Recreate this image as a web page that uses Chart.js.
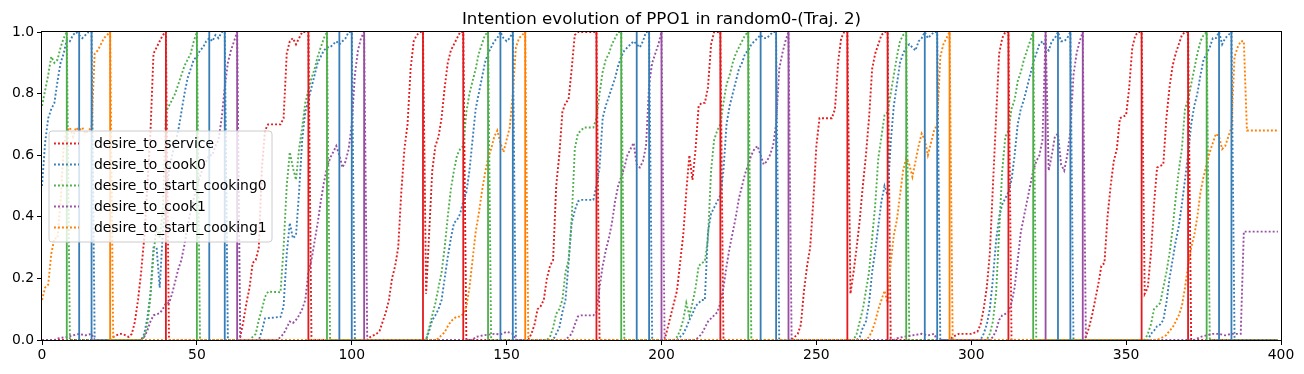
<!DOCTYPE html>
<html>
<head>
<meta charset="utf-8">
<script src="https://cdn.jsdelivr.net/npm/chart.js@4.4.1/dist/chart.umd.min.js"></script>
<style>
  html, body { margin: 0; padding: 0; background: #fff; }
  #wrap { width: 1304px; height: 374px; }
</style>
</head>
<body>
<div id="wrap"><canvas id="intentChart" width="1304" height="374"></canvas></div>
<script>
const chartTitle = "Intention evolution of PPO1 in random0-(Traj. 2)";
const seriesNames = ["desire_to_service", "desire_to_cook0", "desire_to_start_cooking0", "desire_to_cook1", "desire_to_start_cooking1"];
const seriesColors = ["#e41a1c", "#377eb8", "#4daf4a", "#984ea3", "#ff7f00"];
const xTicks = [0, 50, 100, 150, 200, 250, 300, 350, 400];
const yTicks = [0, 0.2, 0.4, 0.6, 0.8, 1.0];

// [step, value]
const desireService = [
  [0,0],[22,0],[23,0.01],[24,0.015],[25,0.02],[26,0.02],[27,0.015],[28,0.01],[29,0.02],[30,0.06],[31,0.13],[32,0.22],[33,0.33],[34,0.5],[35,0.67],[36,0.93],[37,0.95],[38,0.97],[39,0.99],[40,1],[41,0],
  [63,0],[64,0.01],[65,0.06],[66,0.12],[67,0.17],[68,0.25],[69,0.26],[70,0.3],[71,0.56],[72,0.68],[73,0.7],[77,0.7],[78,0.72],[79,0.93],[80,0.97],[81,0.98],[82,0.96],[83,0.98],[84,1],[86,1],[87,0],
  [105,0],[106,0.01],[107,0.015],[108,0.02],[109,0.03],[110,0.06],[111,0.09],[112,0.13],[113,0.2],[114,0.24],[115,0.3],[116,0.48],[117,0.62],[118,0.7],[119,0.88],[120,0.97],[121,0.99],[122,1],[123,1],
  [124,0.15],[125,0.35],[126,0.55],[127,0.63],[128,0.66],[129,0.72],[130,0.82],[131,0.9],[132,0.94],[133,0.96],[134,0.98],[135,1],[136,1],[137,0],
  [157,0],[158,0.02],[159,0.05],[160,0.1],[161,0.11],[162,0.13],[163,0.2],[164,0.24],[165,0.26],[166,0.5],[167,0.6],[168,0.74],[169,0.77],[170,0.78],[171,0.88],[172,0.99],[173,1],[179,1],[180,0],
  [201,0],[202,0.04],[203,0.08],[204,0.12],[205,0.16],[206,0.25],[207,0.34],[208,0.48],[209,0.6],[210,0.52],[211,0.62],[212,0.76],[213,0.77],[214,0.77],[215,0.82],[216,0.96],[217,1],[219,1],[220,0],
  [242,0],[243,0.01],[244,0.02],[245,0.05],[246,0.16],[247,0.24],[248,0.3],[249,0.45],[250,0.63],[251,0.72],[255,0.72],[256,0.75],[257,0.9],[258,0.98],[259,1],[260,1],
  [261,0.15],[262,0.22],[263,0.3],[264,0.39],[265,0.5],[266,0.6],[267,0.72],[268,0.88],[269,0.93],[270,0.96],[271,0.99],[272,1],[273,1],[274,0],
  [293,0],[294,0.01],[296,0.02],[300,0.02],[302,0.027],[303,0.05],[304,0.1],[305,0.17],[306,0.28],[307,0.5],[308,0.72],[309,0.93],[310,0.98],[311,1],[312,1],[313,0],
  [336,0],[337,0.01],[338,0.04],[339,0.08],[340,0.13],[341,0.18],[342,0.24],[343,0.25],[344,0.4],[345,0.5],[346,0.58],[347,0.62],[348,0.72],[350,0.73],[351,0.82],[352,0.95],[353,0.99],[354,1],[355,1],
  [356,0.15],[357,0.17],[358,0.28],[359,0.44],[360,0.56],[362,0.57],[363,0.72],[364,0.82],[365,0.89],[366,0.93],[367,0.96],[368,0.99],[369,1],[370,1],[371,0],[399,0]
];

const desireCook0 = [
  [0,0.5],[1,0.64],[2,0.72],[3,0.75],[4,0.77],[5,0.84],[6,0.9],[7,0.93],[8,0.975],[9,0.97],[10,0.99],[11,1],[12,0.99],[13,0.98],[14,0.99],[15,1],[16,1],[17,0],
  [32,0],[33,0.02],[34,0.07],[35,0.15],[36,0.3],[37,0.3],[38,0.17],[39,0.35],[40,0.45],[41,0.55],[42,0.6],[43,0.64],[44,0.68],[45,0.74],[46,0.8],[47,0.85],[48,0.88],[49,0.91],[50,0.92],[51,0.94],[52,0.95],[53,0.97],[54,0.98],[55,0.97],[56,0.99],[57,0.98],[58,1],[59,1],[60,0],
  [70,0],[71,0.03],[72,0.07],[77,0.075],[78,0.11],[79,0.28],[80,0.38],[81,0.33],[82,0.34],[83,0.48],[84,0.65],[85,0.74],[86,0.78],[87,0.82],[88,0.86],[89,0.9],[90,0.92],[91,0.94],[92,0.95],[93,0.95],[94,0.96],[95,0.97],[96,0.96],[97,0.97],[98,0.98],[99,1],[100,1],[101,0],
  [124,0],[125,0.03],[126,0.065],[127,0.08],[128,0.1],[129,0.13],[130,0.2],[131,0.27],[132,0.33],[133,0.38],[134,0.39],[135,0.41],[136,0.45],[137,0.48],[138,0.55],[139,0.65],[140,0.75],[141,0.8],[142,0.85],[143,0.9],[144,0.93],[145,0.95],[146,0.97],[147,0.98],[148,1],[149,0.98],[150,0.97],[151,0.98],[152,1],[153,0],
  [165,0],[166,0.02],[167,0.04],[168,0.09],[169,0.13],[170,0.25],[171,0.38],[172,0.42],[173,0.45],[174,0.455],[178,0.455],[179,0.5],[180,0.56],[181,0.72],[182,0.76],[183,0.79],[184,0.82],[185,0.85],[186,0.89],[187,0.92],[188,0.94],[189,0.95],[190,0.96],[191,0.97],[192,0.96],[193,0.95],[194,0.97],[195,1],[196,1],[197,0],
  [205,0],[206,0.01],[207,0.02],[208,0.04],[209,0.065],[210,0.085],[211,0.11],[212,0.12],[213,0.13],[214,0.13],[215,0.35],[216,0.41],[217,0.43],[218,0.45],[219,0.47],[220,0.55],[221,0.7],[222,0.76],[223,0.8],[224,0.84],[225,0.88],[226,0.9],[227,0.93],[228,0.94],[229,0.96],[230,0.97],[231,0.98],[232,0.99],[233,0.98],[234,0.98],[235,0.99],[236,1],[237,1],[238,0],
  [263,0],[264,0.01],[265,0.04],[266,0.06],[267,0.12],[268,0.22],[269,0.29],[270,0.37],[271,0.45],[272,0.5],[273,0.47],[274,0.64],[275,0.76],[276,0.83],[277,0.9],[278,0.93],[279,0.95],[280,0.96],[281,0.95],[282,0.94],[283,0.97],[284,0.98],[285,1],[286,0.98],[287,0.99],[288,1],[289,1],[290,0],
  [303,0],[304,0.02],[305,0.05],[306,0.1],[307,0.2],[308,0.32],[309,0.4],[310,0.44],[311,0.46],[312,0.48],[313,0.52],[314,0.6],[315,0.7],[316,0.75],[317,0.78],[318,0.82],[319,0.86],[320,0.9],[321,0.93],[322,0.96],[323,0.97],[324,0.95],[325,0.94],[326,0.97],[327,0.98],[328,1],[329,0.97],[330,0.97],[331,0.98],[332,1],[333,0],
  [357,0],[358,0.02],[359,0.03],[360,0.045],[361,0.05],[362,0.065],[363,0.12],[364,0.2],[365,0.26],[366,0.32],[367,0.37],[368,0.44],[369,0.52],[370,0.6],[371,0.7],[372,0.76],[373,0.8],[374,0.86],[375,0.91],[376,0.93],[377,0.95],[378,0.98],[379,0.98],[380,1],[381,0.96],[382,0.98],[383,0.99],[384,1],[385,0],[399,0]
];

const desireStartCooking0 = [
  [0,0.76],[1,0.81],[2,0.86],[3,0.92],[4,0.9],[5,0.91],[6,0.95],[7,0.98],[8,1],[9,0],
  [32,0],[33,0.01],[34,0.05],[35,0.14],[36,0.28],[37,0.37],[38,0.33],[39,0.42],[40,0.74],[41,0.76],[42,0.78],[43,0.8],[44,0.83],[45,0.86],[46,0.89],[47,0.91],[48,0.93],[49,0.97],[50,1],[51,0],
  [67,0],[68,0.01],[69,0.02],[70,0.065],[71,0.1],[72,0.14],[73,0.157],[77,0.155],[78,0.3],[79,0.5],[80,0.61],[81,0.56],[82,0.52],[83,0.62],[84,0.69],[85,0.77],[86,0.81],[87,0.85],[88,0.88],[89,0.92],[90,0.95],[91,0.98],[92,1],[93,0],
  [124,0],[125,0.04],[126,0.08],[127,0.12],[128,0.17],[129,0.22],[130,0.3],[131,0.4],[132,0.49],[133,0.55],[134,0.6],[135,0.62],[136,0.63],[137,0.74],[138,0.8],[139,0.84],[140,0.88],[141,0.93],[142,0.96],[143,0.99],[144,1],[145,0],
  [163,0],[164,0.01],[165,0.04],[166,0.085],[167,0.1],[168,0.13],[169,0.22],[170,0.26],[171,0.39],[172,0.62],[173,0.67],[174,0.68],[175,0.69],[178,0.69],[179,0.72],[180,0.8],[181,0.87],[182,0.91],[183,0.93],[184,0.96],[185,0.98],[186,1],[187,1],[188,0],
  [204,0],[205,0.01],[206,0.03],[207,0.065],[208,0.12],[209,0.08],[210,0.12],[211,0.17],[212,0.24],[213,0.25],[214,0.255],[215,0.33],[216,0.55],[217,0.65],[218,0.68],[219,0.7],[220,0.77],[221,0.83],[222,0.86],[223,0.9],[224,0.93],[225,0.95],[226,0.97],[227,0.99],[228,1],[229,0],
  [262,0],[263,0.02],[264,0.06],[265,0.1],[266,0.16],[267,0.22],[268,0.33],[269,0.44],[270,0.59],[271,0.66],[272,0.73],[273,0.74],[274,0.8],[275,0.86],[276,0.92],[277,0.97],[278,0.99],[279,1],[280,0],
  [305,0],[306,0.02],[307,0.06],[308,0.15],[309,0.35],[310,0.55],[311,0.66],[312,0.68],[313,0.75],[314,0.78],[315,0.84],[316,0.87],[317,0.91],[318,0.94],[319,0.97],[320,1],[321,0],
  [356,0],[357,0.02],[358,0.05],[359,0.1],[360,0.11],[361,0.12],[362,0.17],[363,0.22],[364,0.28],[365,0.36],[366,0.46],[367,0.55],[368,0.62],[369,0.75],[370,0.78],[371,0.83],[372,0.88],[373,0.93],[374,0.97],[375,0.99],[376,1],[377,0],[399,0]
];

const desireCook1 = [
  [0,0],[4,0],[5,0.005],[8,0.01],[10,0.015],[12,0.02],[14,0.015],[16,0.02],[17,0],
  [32,0],[33,0.01],[34,0.03],[35,0.06],[36,0.08],[38,0.087],[39,0.1],[40,0.12],[41,0.12],[42,0.15],[43,0.19],[44,0.23],[45,0.26],[46,0.31],[47,0.37],[48,0.42],[49,0.46],[50,0.5],[51,0.53],[52,0.56],[53,0.58],[54,0.6],[55,0.6],[56,0.63],[57,0.65],[58,0.72],[59,0.82],[60,0.9],[61,0.94],[62,0.97],[63,1],[64,0],
  [76,0],[77,0.01],[78,0.02],[79,0.04],[80,0.06],[81,0.055],[82,0.065],[83,0.08],[84,0.1],[85,0.13],[86,0.22],[87,0.26],[88,0.32],[89,0.38],[90,0.45],[91,0.51],[92,0.56],[93,0.59],[94,0.61],[95,0.63],[96,0.6],[97,0.56],[98,0.58],[99,0.62],[100,0.7],[101,0.86],[102,0.94],[103,0.98],[104,1],[105,0],
  [139,0],[140,0.01],[143,0.016],[146,0.02],[148,0.018],[150,0.027],[152,0.02],[153,0],
  [169,0],[170,0.01],[171,0.02],[172,0.05],[173,0.076],[174,0.08],[178,0.08],[179,0.09],[180,0.17],[181,0.24],[182,0.29],[183,0.33],[184,0.38],[185,0.45],[186,0.5],[187,0.53],[188,0.56],[189,0.6],[190,0.62],[191,0.64],[192,0.57],[193,0.56],[194,0.58],[195,0.63],[196,0.83],[197,0.9],[198,0.93],[199,0.96],[200,1],[201,0],
  [211,0],[212,0.01],[213,0.02],[214,0.04],[215,0.06],[216,0.07],[217,0.08],[218,0.09],[219,0.12],[220,0.17],[221,0.24],[222,0.3],[223,0.35],[224,0.4],[225,0.46],[226,0.5],[227,0.54],[228,0.57],[229,0.6],[230,0.62],[231,0.63],[232,0.6],[233,0.57],[234,0.58],[235,0.6],[236,0.63],[237,0.7],[238,0.88],[239,0.93],[240,0.97],[241,1],[242,0],
  [275,0],[276,0.005],[278,0.01],[281,0.015],[284,0.02],[286,0.015],[288,0.02],[289,0],
  [306,0],[307,0.01],[308,0.03],[309,0.065],[310,0.08],[311,0.085],[312,0.09],[313,0.12],[314,0.17],[315,0.26],[316,0.35],[317,0.4],[318,0.45],[319,0.5],[320,0.55],[321,0.58],[322,0.6],[323,0.65],[324,1],[325,0.55],[326,0.6],[327,0.66],[328,0.67],[329,0.57],[330,0.55],[331,0.6],[332,0.68],[333,0.86],[334,0.93],[335,0.97],[336,1],[337,0],
  [372,0],[374,0.01],[376,0.015],[378,0.02],[380,0.02],[382,0.015],[384,0.02],[387,0.02],[388,0.352],[399,0.352]
];

const desireStartCooking1 = [
  [0,0.13],[1,0.17],[2,0.18],[3,0.28],[4,0.33],[5,0.33],[6,0.45],[7,0.63],[8,0.68],[9,0.69],[10,0.66],[11,0.69],[12,0.68],[13,0.69],[14,0.67],[15,0.68],[16,0.69],[17,0.93],[18,0.94],[19,0.96],[20,0.98],[21,0.99],[22,1],[23,0],
  [127,0],[128,0.005],[129,0.016],[130,0.025],[131,0.045],[132,0.06],[133,0.07],[134,0.076],[135,0.076],[136,0.085],[137,0.11],[138,0.17],[139,0.26],[140,0.35],[141,0.41],[142,0.48],[143,0.54],[144,0.59],[145,0.62],[146,0.66],[147,0.68],[148,0.64],[149,0.61],[150,0.65],[151,0.69],[152,0.8],[153,0.95],[154,0.98],[155,0.99],[156,1],[157,0],
  [266,0],[267,0.01],[268,0.03],[269,0.06],[270,0.1],[271,0.13],[272,0.16],[273,0.12],[274,0.25],[275,0.34],[276,0.39],[277,0.47],[278,0.55],[279,0.59],[280,0.57],[281,0.53],[282,0.58],[283,0.63],[284,0.67],[285,0.65],[286,0.6],[287,0.64],[288,0.68],[289,0.7],[290,0.92],[291,0.96],[292,0.98],[293,1],[294,0],
  [360,0],[361,0.005],[362,0.01],[363,0.016],[364,0.03],[365,0.04],[366,0.06],[367,0.08],[368,0.11],[369,0.17],[370,0.24],[371,0.3],[372,0.34],[373,0.4],[374,0.48],[375,0.53],[376,0.57],[377,0.61],[378,0.64],[379,0.67],[380,0.66],[381,0.62],[382,0.63],[383,0.66],[384,0.69],[385,0.92],[386,0.95],[387,0.97],[388,0.97],[389,0.68],[399,0.68]
];

// steps where the action was taken (solid vertical lines)
const serviceMarks = [40, 86, 123, 136, 179, 219, 260, 273, 312, 355, 370];
const cook0Marks = [12, 16, 54, 59, 96, 100, 148, 152, 192, 196, 232, 237, 285, 289, 328, 332, 380, 384];
const startCooking0Marks = [8, 50, 92, 144, 187, 228, 279, 320, 376];
const cook1Marks = [63, 104, 200, 241, 324, 336];
const startCooking1Marks = [22, 156, 293];

const lineSets = [desireService, desireCook0, desireStartCooking0, desireCook1, desireStartCooking1];
const markSets = [serviceMarks, cook0Marks, startCooking0Marks, cook1Marks, startCooking1Marks];

const FONT = "'DejaVu Sans', sans-serif";

function toPoints(pairs) {
  return pairs.map(p => ({ x: p[0], y: p[1] }));
}

// each mark -> a 0..1 segment, null breaks the line between marks
function toVLines(marks) {
  let pts = [];
  marks.forEach(m => {
    pts.push({ x: m, y: 0 }, { x: m, y: 1 }, { x: m, y: null });
  });
  return pts;
}

let datasets = [];
lineSets.forEach((s, i) => {
  datasets.push({
    label: seriesNames[i],
    data: toPoints(s),
    borderColor: seriesColors[i],
    borderWidth: 1.9,
    borderDash: [1.9, 2.1],
    pointRadius: 0,
    tension: 0,
    fill: false,
    clip: 0,
    order: 10 - i
  });
});
markSets.forEach((m, i) => {
  datasets.push({
    label: seriesNames[i] + "_marks",
    data: toVLines(m),
    borderColor: seriesColors[i],
    borderWidth: 1.8,
    pointRadius: 0,
    spanGaps: false,
    fill: false,
    clip: 0,
    order: 0
  });
});

// title, top/right spines and the boxed legend inside the plot
const decoPlugin = {
  id: "deco",
  afterDatasetsDraw(chart) {
    const { ctx, chartArea: a } = chart;
    ctx.save();
    ctx.strokeStyle = "#000";
    ctx.lineWidth = 1;
    ctx.strokeRect(a.left - 0.5, a.top - 0.5, a.right - a.left + 1, a.bottom - a.top + 1);
    ctx.restore();
  },
  afterDraw(chart) {
    const { ctx, chartArea: a } = chart;
    ctx.save();
    ctx.fillStyle = "#000";
    ctx.font = "16.7px " + FONT;
    ctx.textAlign = "center";
    ctx.textBaseline = "alphabetic";
    ctx.fillText(chartTitle, (a.left + a.right) / 2, 24);

    // legend box
    let bx = 49, by = 131, bw = 223, bh = 111, r = 3;
    ctx.beginPath();
    ctx.moveTo(bx + r, by);
    ctx.arcTo(bx + bw, by, bx + bw, by + bh, r);
    ctx.arcTo(bx + bw, by + bh, bx, by + bh, r);
    ctx.arcTo(bx, by + bh, bx, by, r);
    ctx.arcTo(bx, by, bx + bw, by, r);
    ctx.closePath();
    ctx.fillStyle = "rgba(255,255,255,0.8)";
    ctx.fill();
    ctx.strokeStyle = "#cccccc";
    ctx.lineWidth = 1;
    ctx.stroke();

    ctx.font = "13.9px " + FONT;
    ctx.textAlign = "left";
    ctx.textBaseline = "middle";
    seriesNames.forEach((name, i) => {
      let y = 143.5 + i * 21;
      ctx.beginPath();
      ctx.setLineDash([1.9, 2.1]);
      ctx.strokeStyle = seriesColors[i];
      ctx.lineWidth = 1.9;
      ctx.moveTo(54, y);
      ctx.lineTo(79, y);
      ctx.stroke();
      ctx.setLineDash([]);
      ctx.fillStyle = "#000";
      ctx.fillText(name, 94, y + 0.5);
    });
    ctx.restore();
  }
};

const tickFont = { family: FONT, size: 13.9 };

new Chart(document.getElementById("intentChart"), {
  type: "line",
  data: { datasets: datasets },
  plugins: [decoPlugin],
  options: {
    responsive: false,
    devicePixelRatio: 1,
    animation: false,
    events: [],
    layout: { padding: { top: 32, right: 23, left: 0, bottom: 0 } },
    plugins: {
      legend: { display: false },
      title: { display: false },
      tooltip: { enabled: false }
    },
    scales: {
      x: {
        type: "linear",
        min: 0,
        max: 400,
        afterBuildTicks: s => { s.ticks = xTicks.map(v => ({ value: v })); },
        afterFit: s => { s.height = 34; },
        ticks: { color: "#000", font: tickFont, padding: 2, maxRotation: 0, autoSkip: false },
        grid: { drawOnChartArea: false, drawTicks: true, tickLength: 5, tickWidth: 1, tickColor: "#000" },
        border: { display: false }
      },
      y: {
        type: "linear",
        min: 0,
        max: 1,
        afterBuildTicks: s => { s.ticks = yTicks.map(v => ({ value: v })); },
        afterFit: s => { s.width = 42; },
        ticks: { color: "#000", font: tickFont, padding: 3, callback: v => v.toFixed(1) },
        grid: { drawOnChartArea: false, drawTicks: true, tickLength: 5, tickWidth: 1, tickColor: "#000" },
        border: { display: false }
      }
    }
  }
});
</script>
</body>
</html>
